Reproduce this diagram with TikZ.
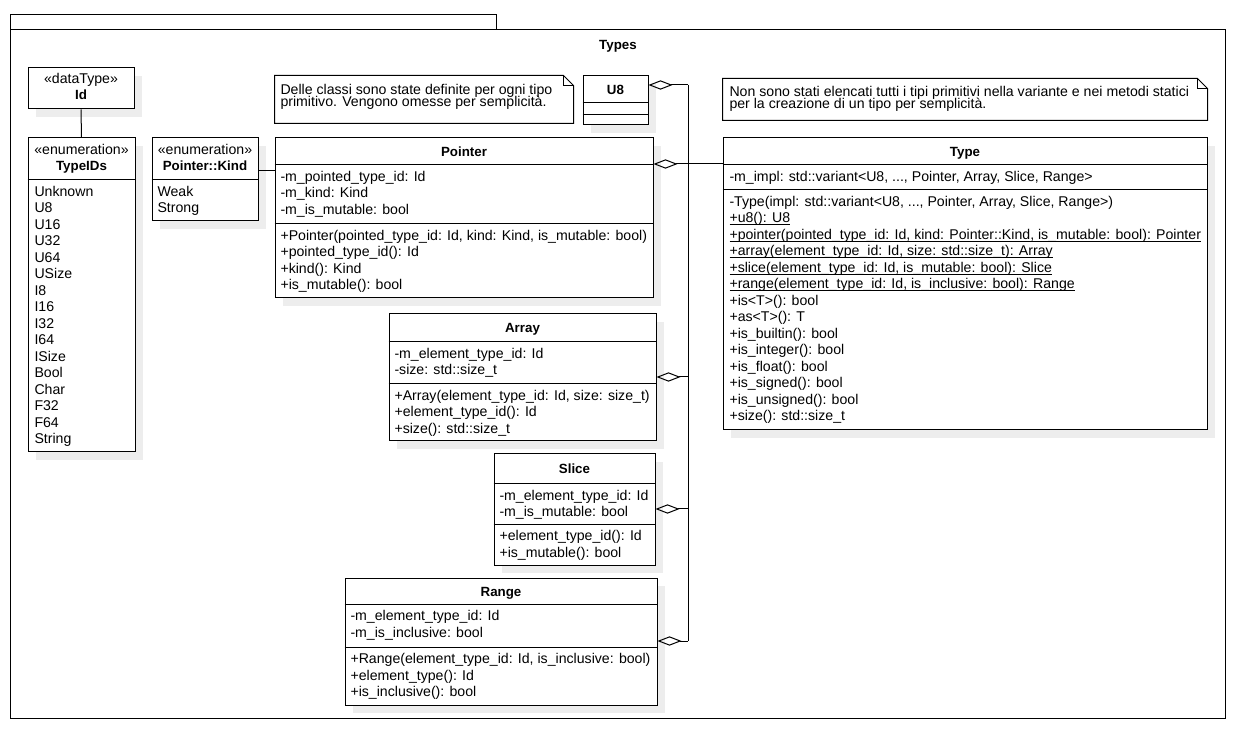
\documentclass[tikz,border=0pt]{standalone}
\usepackage{fontspec}
\setmainfont{Liberation Sans}
\usetikzlibrary{arrows.meta,fit,shadows}

% underline of static members, at a fixed distance from the baseline
\newcommand{\staticul}[1]{\setbox0\hbox{#1}\rlap{\rule[-1.7pt]{\wd0}{0.6pt}}\box0}

\tikzset{
  frame/.style={draw, inner sep=0pt},
  umlbox/.style={draw, fill=white, inner sep=0pt,
    drop shadow={shadow xshift=6pt, shadow yshift=-6pt, fill=black!7, opacity=1}},
  notebox/.style={inner sep=0pt},
  txt/.style={anchor=base west, inner sep=0pt},
  hdr/.style={anchor=base, inner sep=0pt, font=\bfseries},
  stereo/.style={anchor=base, inner sep=0pt},
  agg/.style={{Diamond[open,length=18pt,width=7pt]}-},
}

\begin{document}
\begin{tikzpicture}[x=0.75pt,y=-0.75pt,line width=0.75pt,
    font=\fontsize{10.6pt}{12.4pt}\selectfont]

  \useasboundingbox (0,0) rectangle (1242,737);

  % Package frame
  \node[frame, fit={(10,15) (496,30)}] (tab) {};
  \node[frame, fit={(10,30) (1225,718)}] (types) {};
  \node[hdr] (types-title) at (618,50) {Types};

  % Id
  \node[umlbox, fit={(28,68) (134,109)}] (id) {};
  \node[stereo] (id-st) at (81,84) {«dataType»};
  \node[hdr] (id-name) at (81,100) {Id};

  % TypeIDs
  \node[umlbox, fit={(28,138) (135,452)}] (typeids) {};
  \node[stereo] (typeids-st) at (81.5,155) {«enumeration»};
  \node[hdr] (typeids-name) at (81.5,171) {TypeIDs};
  \draw (typeids.west |- 0,180) -- (typeids.east |- 0,180);
  \foreach \t [count=\i from 0] in {Unknown,U8,U16,U32,U64,USize,I8,I16,I32,I64,ISize,Bool,Char,F32,F64,String}
    \node[txt] (typeids-\i) at (34,{196.5+16.5*\i}) {\t};

  % Pointer::Kind
  \node[umlbox, fit={(152,138) (258,221)}] (kind) {};
  \node[stereo] (kind-st) at (205,155) {«enumeration»};
  \node[hdr] (kind-name) at (205,171) {Pointer::Kind};
  \draw (kind.west |- 0,180) -- (kind.east |- 0,180);
  \node[txt] (kind-0) at (157,196.5) {Weak};
  \node[txt] (kind-1) at (157,213) {Strong};

  % Note on primitive classes
  \node[notebox, fit={(275,76) (573,123)}] (note-cls) {};
  \draw[fill=white] (note-cls.north west) -- ([xshift=-7.5pt]note-cls.north east)
    -- ([yshift=-7.5pt]note-cls.north east) -- (note-cls.south east)
    -- (note-cls.south west) -- cycle;
  \draw ([xshift=-7.5pt]note-cls.north east) -- ([xshift=-7.5pt,yshift=-7.5pt]note-cls.north east)
    -- ([yshift=-7.5pt]note-cls.north east);
  \node[txt] (note-cls-0) at (280,94.5) {Delle classi sono state definite per ogni tipo};
  \node[txt] (note-cls-1) at (280,106.5) {primitivo. Vengono omesse per semplicità.};

  % U8
  \node[umlbox, fit={(583,76) (648,125)}] (u8) {};
  \node[hdr] (u8-name) at (615.5,94.5) {U8};
  \draw (u8.west |- 0,103) -- (u8.east |- 0,103);
  \draw (u8.west |- 0,115) -- (u8.east |- 0,115);

  % Pointer
  \node[umlbox, fit={(275,138) (653,298)}] (pointer) {};
  \node[hdr] (pointer-name) at (464,156.5) {Pointer};
  \draw (pointer.west |- 0,165) -- (pointer.east |- 0,165);
  \draw (pointer.west |- 0,224) -- (pointer.east |- 0,224);
  \foreach \t [count=\i from 0] in {-m\_pointed\_type\_id: Id,-m\_kind: Kind,-m\_is\_mutable: bool}
    \node[txt] (pointer-a\i) at (280,{181.5+16.5*\i}) {\t};
  \foreach \t [count=\i from 0] in {{+Pointer(pointed\_type\_id: Id, kind: Kind, is\_mutable: bool)},
      +pointed\_type\_id(): Id,+kind(): Kind,+is\_mutable(): bool}
    \node[txt] (pointer-m\i) at (280,{240.5+16.5*\i}) {\t};

  % Array
  \node[umlbox, fit={(389,314) (656,441)}] (array) {};
  \node[hdr] (array-name) at (522.5,333) {Array};
  \draw (array.west |- 0,342) -- (array.east |- 0,342);
  \draw (array.west |- 0,384) -- (array.east |- 0,384);
  \foreach \t [count=\i from 0] in {-m\_element\_type\_id: Id,-size: std::size\_t}
    \node[txt] (array-a\i) at (394,{358.5+16.5*\i}) {\t};
  \foreach \t [count=\i from 0] in {{+Array(element\_type\_id: Id, size: size\_t)},
      +element\_type\_id(): Id,+size(): std::size\_t}
    \node[txt] (array-m\i) at (394,{400.5+16.5*\i}) {\t};

  % Slice
  \node[umlbox, fit={(494,454) (655,565)}] (slice) {};
  \node[hdr] (slice-name) at (574.5,474) {Slice};
  \draw (slice.west |- 0,484) -- (slice.east |- 0,484);
  \draw (slice.west |- 0,524) -- (slice.east |- 0,524);
  \foreach \t [count=\i from 0] in {-m\_element\_type\_id: Id,-m\_is\_mutable: bool}
    \node[txt] (slice-a\i) at (499,{500.5+16.5*\i}) {\t};
  \foreach \t [count=\i from 0] in {+element\_type\_id(): Id,+is\_mutable(): bool}
    \node[txt] (slice-m\i) at (499,{540.5+16.5*\i}) {\t};

  % Range
  \node[umlbox, fit={(345,578) (657,705)}] (range) {};
  \node[hdr] (range-name) at (501,596) {Range};
  \draw (range.west |- 0,604) -- (range.east |- 0,604);
  \draw (range.west |- 0,647) -- (range.east |- 0,647);
  \foreach \t [count=\i from 0] in {-m\_element\_type\_id: Id,-m\_is\_inclusive: bool}
    \node[txt] (range-a\i) at (350,{620.5+16.5*\i}) {\t};
  \foreach \t [count=\i from 0] in {{+Range(element\_type\_id: Id, is\_inclusive: bool)},
      +element\_type(): Id,+is\_inclusive(): bool}
    \node[txt] (range-m\i) at (350,{663.5+16.5*\i}) {\t};

  % Note on Type
  \node[notebox, fit={(723,79) (1207,120)}] (note-type) {};
  \draw[fill=white] (note-type.north west) -- ([xshift=-7.5pt]note-type.north east)
    -- ([yshift=-7.5pt]note-type.north east) -- (note-type.south east)
    -- (note-type.south west) -- cycle;
  \draw ([xshift=-7.5pt]note-type.north east) -- ([xshift=-7.5pt,yshift=-7.5pt]note-type.north east)
    -- ([yshift=-7.5pt]note-type.north east);
  \node[txt] (note-type-0) at (729,96.5) {Non sono stati elencati tutti i tipi primitivi nella variante e nei metodi statici};
  \node[txt] (note-type-1) at (729,108.5) {per la creazione di un tipo per semplicità.};

  % Type
  \node[umlbox, fit={(723,138) (1207,430)}] (type) {};
  \node[hdr] (type-name) at (965,156.5) {Type};
  \draw (type.west |- 0,165) -- (type.east |- 0,165);
  \draw (type.west |- 0,190) -- (type.east |- 0,190);
  \node[txt] (type-a0) at (729,181.5) {-m\_impl: std::variant<U8, {.}{.}{.}, Pointer, Array, Slice, Range>};
  \foreach \t [count=\i from 0] in {{-Type(impl: std::variant<U8, {.}{.}{.}, Pointer, Array, Slice, Range>)},
      {\staticul{+u8(): U8}},
      {\staticul{+pointer(pointed\_type\_id: Id, kind: Pointer::Kind, is\_mutable: bool): Pointer}},
      {\staticul{+array(element\_type\_id: Id, size: std::size\_t): Array}},
      {\staticul{+slice(element\_type\_id: Id, is\_mutable: bool): Slice}},
      {\staticul{+range(element\_type\_id: Id, is\_inclusive: bool): Range}},
      +is<T>(): bool,+as<T>(): T,+is\_builtin(): bool,+is\_integer(): bool,
      +is\_float(): bool,+is\_signed(): bool,+is\_unsigned(): bool,+size(): std::size\_t}
    \node[txt] (type-m\i) at (729,{206.5+16.5*\i}) {\t};

  % Connectors
  \draw (id.south) -- (typeids.north);
  \coordinate (kind-link) at (258,171);
  \draw (kind-link -| kind.east) -- (kind-link -| pointer.west);

  \coordinate (bus-u8) at (688,85);
  \coordinate (bus-pointer) at (688,164);
  \coordinate (bus-array) at (688,377);
  \coordinate (bus-slice) at (688,509);
  \coordinate (bus-range) at (688,641);
  \draw (bus-u8) -- (bus-range);
  \draw (bus-pointer) -- (bus-pointer -| type.west);
  \foreach \c in {u8,pointer,array,slice,range}
    \draw[agg] (bus-\c -| \c.east) -- (bus-\c);

\end{tikzpicture}
\end{document}
